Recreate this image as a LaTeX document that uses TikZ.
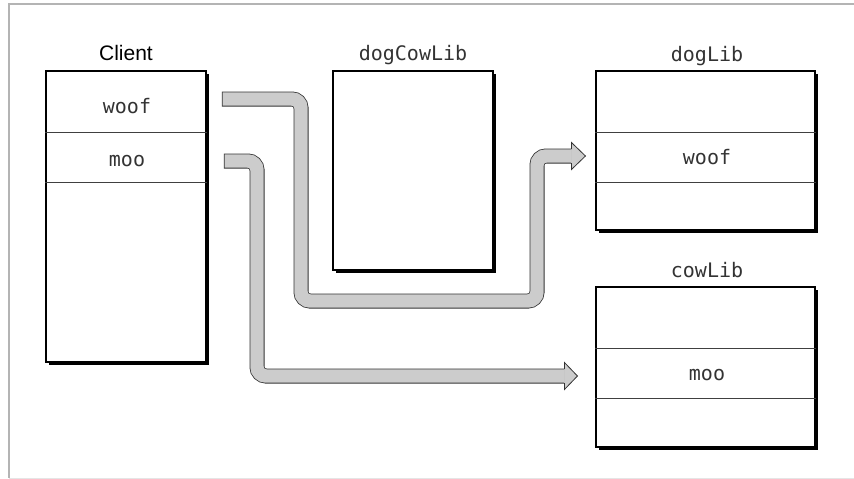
\documentclass[tikz,border=0pt]{standalone}
\usepackage{fontspec}
\setmainfont{Liberation Sans}
\setmonofont{DejaVu Sans Mono}
\usetikzlibrary{shadows}
\definecolor{pipegray}{HTML}{CCCCCC}
\definecolor{framegray}{HTML}{B4B4B4}
\definecolor{txtgray}{HTML}{333333}

\begin{document}
\begin{tikzpicture}[x=1pt, y=-1pt,
  libbox/.style={rectangle, draw, line width=1.1pt, fill=white, inner sep=0pt,
    drop shadow={fill=black, opacity=1, shadow xshift=3pt, shadow yshift=-3pt}},
  divider/.style={draw=black!75, line width=0.8pt},
  fn/.style={anchor=base, inner sep=0pt, text=txtgray, font=\ttfamily\fontsize{20}{24}\selectfont},
  title/.style={anchor=base, inner sep=0pt, font=\fontsize{21}{25}\selectfont},
  pipe/.style={draw=pipegray, line width=13.4pt, rounded corners=9pt,
    preaction={draw=black!80, line width=15pt, shorten <=-0.7pt}},
  head/.style={fill=pipegray, draw=black!80, line width=0.8pt, line join=miter}]
\useasboundingbox (0,0) rectangle (854,479);
% frame
\draw[framegray, line width=1.2pt] (860,4) -- (9,4) -- (9,478);
\draw[black!10, line width=1pt] (9,478) -- (860,478);

% libraries
\node[libbox, minimum width=160pt, minimum height=291pt] (client) at (126,216.5) {};
\node[libbox, minimum width=160pt, minimum height=199pt] (dogcow) at (413,170.5) {};
\node[libbox, minimum width=219pt, minimum height=159pt] (doglib) at (705.5,150.5) {};
\node[libbox, minimum width=219pt, minimum height=160pt] (cowlib) at (705.5,367) {};

\foreach \b in {client, doglib, cowlib} {
  \draw[divider] ([yshift=-62pt]\b.north west) -- ([yshift=-62pt]\b.north east);
  \draw[divider] ([yshift=-112pt]\b.north west) -- ([yshift=-112pt]\b.north east);
}

% titles
\node[title] (clientlbl) at (126,60) {Client};
\node[fn] (dogcowlbl) at (413,60) {dogCowLib};
\node[fn] (doglbl) at (707,61) {dogLib};
\node[fn] (cowlbl) at (707,277) {cowLib};

% entries
\node[fn] (cwoof) at (127,113) {woof};
\node[fn] (cmoo) at (127,166) {moo};
\node[fn] (dwoof) at (707,164) {woof};
\node[fn] (wmoo) at (707,380) {moo};

% links
\coordinate (woofsrc) at ([xshift=16pt]client.east |- 0,99);
\coordinate (moosrc) at ([xshift=18pt]client.east |- 0,161);
\coordinate (woofend) at ([xshift=-24pt]doglib.west |- 0,156);
\coordinate (mooend) at ([xshift=-31pt]cowlib.west |- 0,376);
\draw[pipe] (woofsrc) -- (301,99) -- (301,301) -- (537,301) -- (537,156) -- (woofend);
\filldraw[head] ([yshift=7pt]woofend) -- ([yshift=13.5pt]woofend) -- ([xshift=14pt]woofend)
  -- ([yshift=-13.5pt]woofend) -- ([yshift=-7pt]woofend);
\draw[pipe] (moosrc) -- (257,161) -- (257,376) -- (mooend);
\filldraw[head] ([yshift=7pt]mooend) -- ([yshift=13.5pt]mooend) -- ([xshift=13pt]mooend)
  -- ([yshift=-13.5pt]mooend) -- ([yshift=-7pt]mooend);
\end{tikzpicture}
\end{document}
